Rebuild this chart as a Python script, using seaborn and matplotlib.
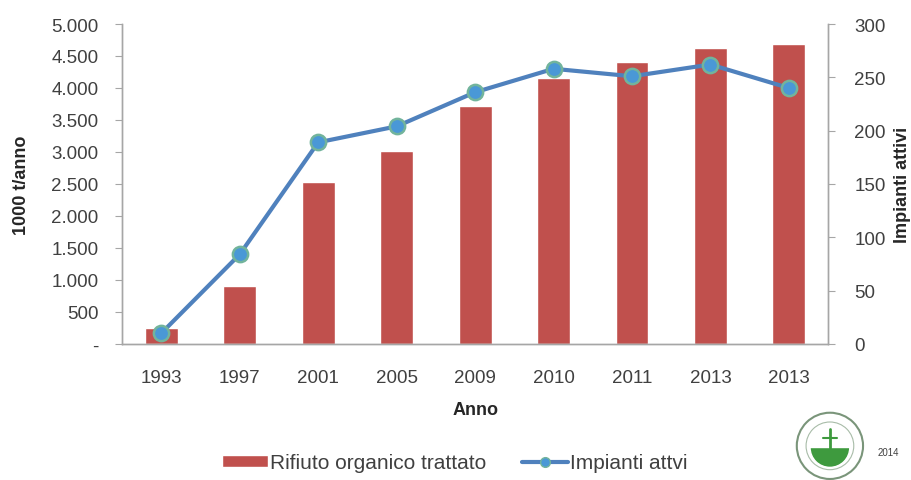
import numpy as np
import pandas as pd
import matplotlib
matplotlib.use("Agg")
import matplotlib.pyplot as plt
from matplotlib.ticker import FuncFormatter, FixedLocator
from matplotlib.lines import Line2D
from matplotlib.patches import Patch, Circle, Wedge
import seaborn as sns

# dati
anni = ["1993", "1997", "2001", "2005", "2009", "2010", "2011", "2013", "2013"]
rifiuto = [250, 905, 2530, 3010, 3720, 4150, 4400, 4625, 4690]   # 1000 t/anno
impianti = [10, 84, 189, 204, 236, 258, 251, 262, 240]            # numero impianti

sns.set_style("white")
plt.rcParams['font.family'] = ['Liberation Sans', 'DejaVu Sans']

RED = "#C0504D"
BLUE = "#4F81BD"
GREY = "#A6A6A6"
TXT = "#404040"

pos = np.arange(len(anni))
df = pd.DataFrame({"pos": pos, "rifiuto": rifiuto, "impianti": impianti})

fig, ax = plt.subplots(figsize=(9.11, 4.81), dpi=100)
fig.subplots_adjust(left=0.134, right=0.909, bottom=0.283, top=0.948)

sns.barplot(data=df, x="pos", y="rifiuto", color=RED, width=0.42,
            saturation=1, ax=ax)
ax.set_xlim(-0.5, len(anni) - 0.5)
ax.set_ylim(0, 5000)
ax.set_yticks(np.arange(0, 5001, 500))
ax.yaxis.set_major_formatter(FuncFormatter(
    lambda v, p: "-" if v == 0 else f"{int(v):,}".replace(",", ".")))
ax.set_xticks(pos)
ax.set_xticklabels(anni)
ax.xaxis.set_minor_locator(FixedLocator(np.arange(-0.5, len(anni), 1.0)))
ax.tick_params(axis="x", which="major", length=0, labelsize=13.5,
               colors=TXT, pad=18)
ax.tick_params(axis="x", which="minor", length=5, color=GREY, direction="out")
ax.tick_params(axis="y", length=5, color=GREY, direction="out", pad=12,
               labelsize=13.5, labelcolor=TXT, left=True)
ax.set_xlabel("Anno", fontsize=13, fontweight="bold")
ax.xaxis.set_label_coords(0.5, -0.18)
ax.set_ylabel("1000 t/anno", fontsize=13, fontweight="bold")
ax.yaxis.set_label_coords(-0.13, 0.5)

ax2 = ax.twinx()
sns.lineplot(data=df, x="pos", y="impianti", color=BLUE, linewidth=3,
             marker="o", markersize=11, markerfacecolor="#4A98D6",
             markeredgecolor="#72B49C", markeredgewidth=1.8, ax=ax2)
ax2.set_ylim(0, 300)
ax2.set_yticks(np.arange(0, 301, 50))
ax2.tick_params(axis="y", length=5, color=GREY, direction="out", pad=14,
                labelsize=13.5, labelcolor=TXT, right=True)
ax2.set_ylabel("Impianti attivi", fontsize=13, fontweight="bold")
ax2.yaxis.set_label_coords(1.093, 0.5)
ax2.set_xlabel("")

for a in (ax, ax2):
    a.spines["top"].set_visible(False)
    for s in ("left", "right", "bottom"):
        a.spines[s].set_color(GREY)
        a.spines[s].set_linewidth(1)

handles = [Patch(facecolor=RED, label="Rifiuto organico trattato"),
           Line2D([0], [0], color=BLUE, lw=3, marker="o", markersize=7,
                  markerfacecolor="#4A98D6", markeredgecolor="#72B49C",
                  label="Impianti attvi")]
fig.legend(handles=handles, loc="center left", bbox_to_anchor=(0.244, 0.036),
           ncol=2, frameon=False, fontsize=15, handlelength=2.2,
           handleheight=0.5, columnspacing=1.7, handletextpad=0.1,
           borderaxespad=0, borderpad=0, labelcolor=TXT)

# logo in basso a destra (approssimato)
lax = fig.add_axes([0.871, -0.005, 0.080, 0.152])
lax.set_aspect("equal")
lax.axis("off")
lax.add_patch(Circle((0, 0), 1, facecolor="white", edgecolor="#7A957A", lw=1.5))
lax.add_patch(Circle((0, 0), 0.72, facecolor="none", edgecolor="#A8BCA8", lw=0.8))
lax.add_patch(Wedge((0, -0.05), 0.6, 180, 360, facecolor="#3E9A3E"))
lax.plot([0, 0], [-0.05, 0.5], color="#3E9A3E", lw=2)
lax.plot([-0.2, 0.2], [0.25, 0.25], color="#3E9A3E", lw=1.5)
lax.set_xlim(-1.1, 1.1)
lax.set_ylim(-1.1, 1.1)

fig.text(0.963, 0.058, "2014", fontsize=7, color=TXT, va="center")

fig.savefig("out.png", dpi=100)
